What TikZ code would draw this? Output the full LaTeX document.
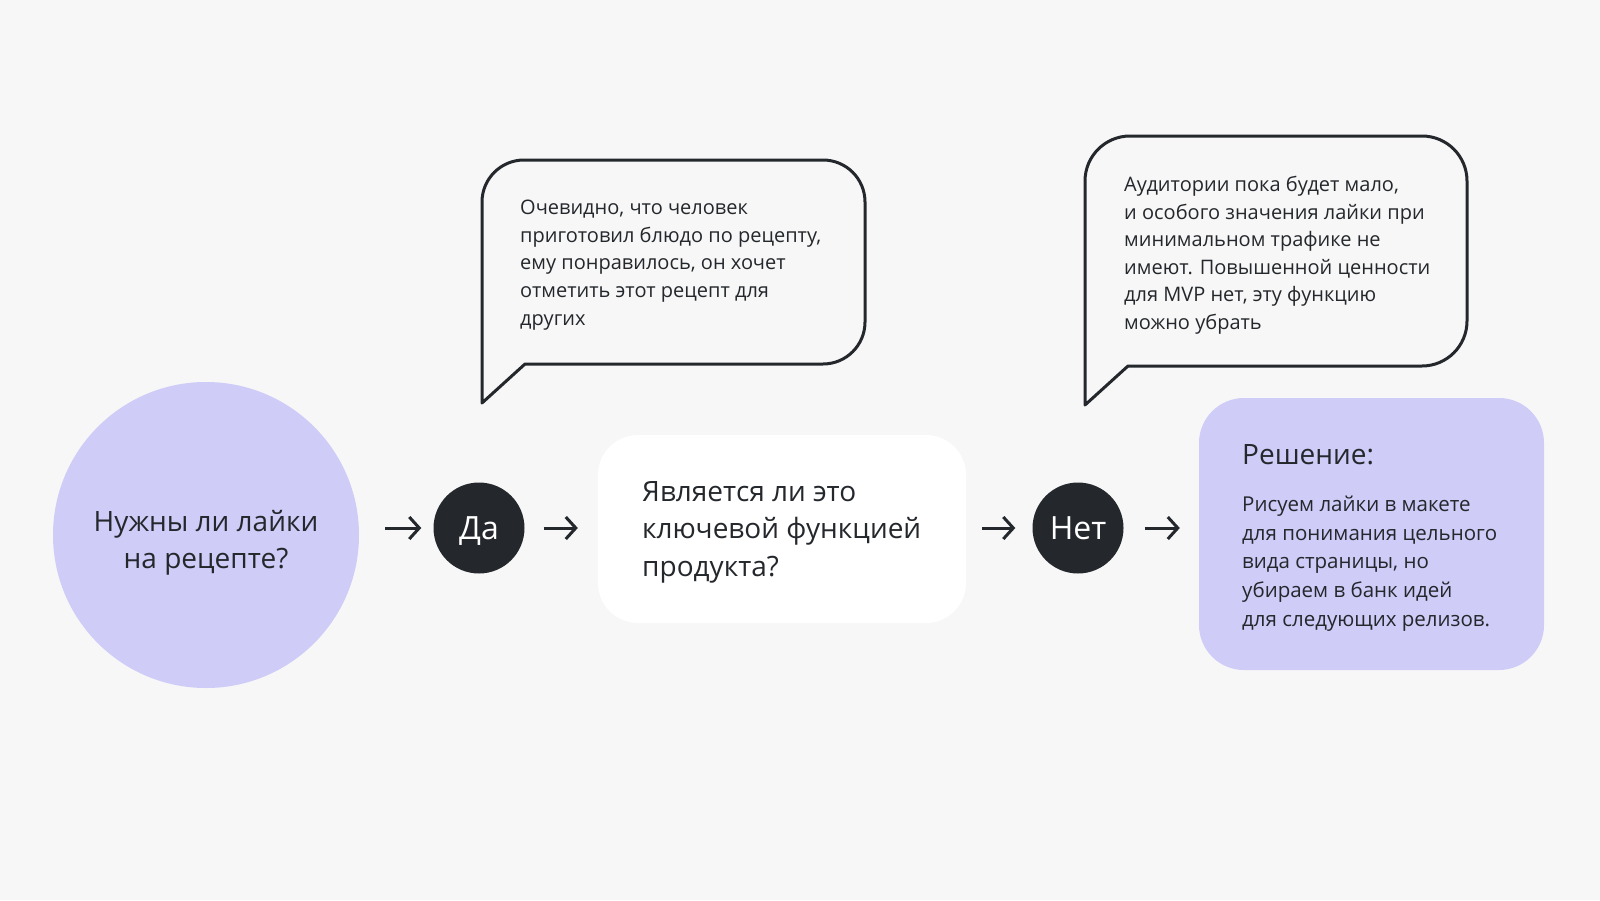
\documentclass[tikz,border=0pt]{standalone}
\usepackage{fontspec}
\setmainfont{Open Sans}
\usetikzlibrary{arrows.meta,positioning}
\definecolor{bg}{HTML}{F7F7F7}
\definecolor{lilac}{HTML}{CFCCF8}
\definecolor{ink}{HTML}{24282C}
\tikzset{question/.style={circle, fill=lilac, minimum size=306pt, inner sep=0pt},
  answer/.style={circle, fill=ink, minimum size=91pt, inner sep=0pt, text=white, text height=23pt, text depth=0pt, font=\fontsize{32}{32}\selectfont},
  card/.style={rectangle, rounded corners=40pt, fill=white, minimum width=368pt, minimum height=188pt},
  decision/.style={rectangle, rounded corners=45pt, fill=lilac, minimum width=345pt, minimum height=272pt},
  big/.style={inner sep=0pt, text=ink, font=\fontsize{28}{37.5}\selectfont},
  note/.style={anchor=north west, inner sep=0pt, align=left, text=ink, font=\fontsize{20}{27.6}\selectfont},
  bubble/.style={draw=ink, line width=3pt, fill=bg, line join=round},
  arr/.style={draw=ink, line width=3pt, -{Straight Barb[length=10pt, width=22pt]}}}

\begin{document}
\begin{tikzpicture}[x=1pt, y=-1pt]
    \fill[bg] (0,0) rectangle (1600,900);
    \useasboundingbox (0,0) rectangle (1600,900);

    \node[question] (q) at (206,535) {};
    \node[big, align=center] (qtext) at (206,543) {Нужны ли лайки\\на рецепте?};
    \node[answer] (yes) at (479,528) {Да};
    \node[card] (key) at (782,529) {};
    \node[big, anchor=north west, align=left] (keytext) at (642,481) {Является ли это\\ключевой функцией\\продукта?};
    \node[answer] (no) at (1078,528) {Нет};
    \node[decision] (dec) at (1371.5,534) {};
    \node[note, font=\fontsize{28}{30}\selectfont] (dectitle) at (1242,444) {Решение:};
    \node[note, font=\fontsize{20.5}{28.6}\selectfont] (dectext) at (1242,496) {Рисуем лайки в макете\\для понимания цельного\\вида страницы, но\\убираем в банк идей\\для следующих релизов.};

    \draw[bubble] (525,364) [rounded corners=42pt] -- (865,364) -- (865,160) -- (482,160) [sharp corners] -- (482,403) -- cycle;
    \node[note] (why) at (520,200) {Очевидно, что человек\\приготовил блюдо по рецепту,\\ему понравилось, он хочет\\отметить этот рецепт для\\других};
    \draw[bubble] (1128,366) [rounded corners=45pt] -- (1467,366) -- (1467,136) -- (1085,136) [sharp corners] -- (1085,405) -- cycle;
    \node[note] (whynot) at (1124,176) {Аудитории пока будет мало,\\и особого значения лайки при\\минимальном трафике не\\имеют. Повышенной ценности\\для MVP нет, эту функцию\\можно убрать};

    \draw[arr, shorten <=26pt, shorten >=12pt] (q.east |- yes) -- (yes.west);
    \draw[arr, shorten <=19pt, shorten >=20pt] (yes.east) -- (key.west |- yes);
    \draw[arr, shorten <=16pt, shorten >=17pt] (key.east |- no) -- (no.west);
    \draw[arr, shorten <=21pt, shorten >=19pt] (no.east) -- (dec.west |- no);
\end{tikzpicture}
\end{document}
